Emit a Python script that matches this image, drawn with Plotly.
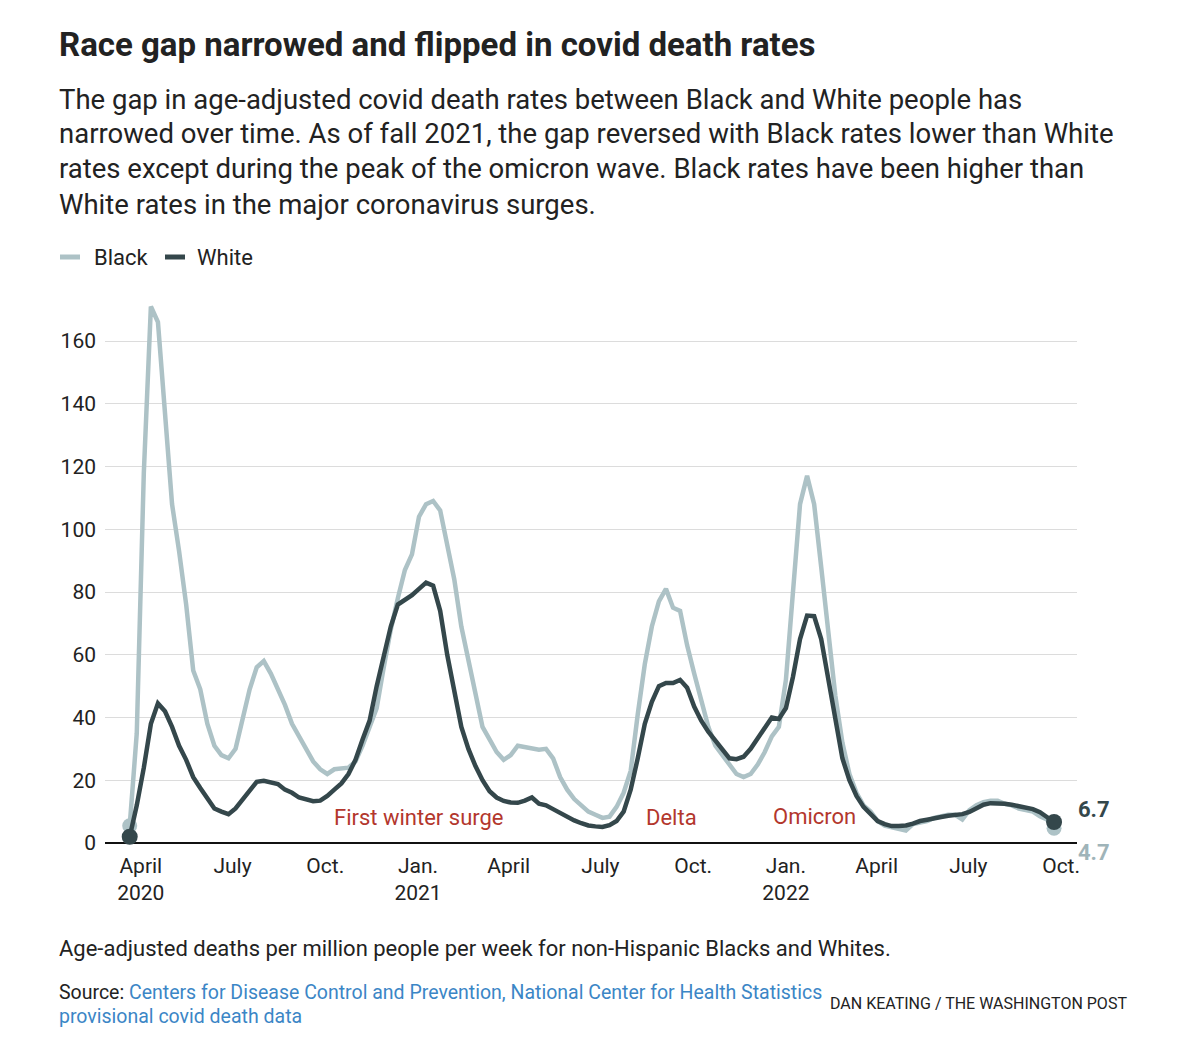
import pandas as pd
import plotly.graph_objects as go

# ---- data (weekly, age-adjusted deaths per million per week) ----
start_week = "2020-03-21"
black = [5.5, 35, 118, 171, 166, 137, 108, 93, 76, 55,
         49, 38, 31, 28, 27, 30, 39, 49, 56, 58,
         54, 49, 44, 38, 34, 30, 26, 23.5, 22, 23.5,
         23.7, 24, 26, 31, 37, 43, 56, 68, 78, 87,
         92, 104, 108, 109, 106, 95, 84, 69, 58, 48,
         37, 33, 29, 26.5, 28, 31, 30.5, 30, 29.7, 30,
         27, 21, 17, 14, 12, 10, 9, 8, 8.4, 11.5,
         16, 23, 41, 57, 69, 77, 81, 75, 74, 63,
         54, 45, 37, 31, 28, 25, 22, 21, 22, 25,
         29, 34, 37, 52, 82, 108, 117, 108, 88, 67,
         47, 32, 22, 16, 12, 10, 7, 5.5, 5, 4.5,
         4, 6, 6.5, 7, 8, 8.5, 9, 9, 7.5, 10.5,
         12, 13, 13.5, 13.5, 12.5, 12, 11, 10.5, 10, 8.5,
         7.5, 4.7]
white = [2, 12, 24, 38, 44.5, 42, 37, 31, 26.5, 21,
         17.5, 14.5, 11, 10, 9.2, 11, 14, 16.5, 19.5, 19.8,
         19.2, 18.8, 17, 16, 14.5, 14, 13.3, 13.5, 15, 17,
         19, 22, 26.5, 33, 39, 50, 59, 69, 76, 77.5,
         79, 81, 83, 82, 74, 60, 48, 37, 30, 24.5,
         20, 16.5, 14.5, 13.4, 12.9, 12.8, 13.5, 14.5, 12.5, 12,
         10.8, 9.5, 8.3, 7.2, 6.3, 5.6, 5.3, 5.1, 5.7, 7,
         10, 17, 27, 38, 45, 50, 51, 51, 52, 49.5,
         43.5, 39, 35.5, 32.5, 29.5, 27, 26.7, 27.5, 30, 33.5,
         37, 40, 39.5, 43, 53, 65, 72.5, 72.3, 65, 52,
         38, 27, 20, 15, 11.5, 9, 7, 6, 5.4, 5.4,
         5.6, 6.2, 7, 7.4, 8, 8.3, 8.7, 9, 9.2, 9.9,
         11, 12.2, 12.7, 12.7, 12.5, 12.2, 11.8, 11.3, 10.8, 9.8,
         8.3, 6.7]
weeks = pd.date_range(start_week, periods=len(black), freq="7D")

tick_dates = ["2020-04-01", "2020-07-01", "2020-10-01", "2021-01-01", "2021-04-01",
              "2021-07-01", "2021-10-01", "2022-01-01", "2022-04-01", "2022-07-01",
              "2022-10-01"]
tick_text = ["April<br>2020", "July", "Oct.", "Jan.<br>2021", "April", "July", "Oct.",
             "Jan.<br>2022", "April", "July", "Oct."]
y_ticks = [0, 20, 40, 60, 80, 100, 120, 140, 160]

wave_labels = ["First winter surge", "Delta", "Omicron"]
wave_dates = ["2021-01-02", "2021-09-09", "2022-01-29"]
wave_y = [8, 8, 8.6]

# ---- style ----
LIGHT = "#adc2c6"
DARK = "#34474b"
RED = "#b3372d"
TXT = "#222222"
BLUE = "#3b86c6"
FONT = "Roboto"

W, H = 1200, 1061
L, R, T, B = 105, 1077, 294, 843   # plot area in pixels


def px(x):
    return (x - L) / (R - L)


def py(y):
    return (B - y) / (B - T)


ref = pd.Timestamp("2021-01-01")
x0 = ref + pd.Timedelta(days=(L - 418) / 1.008)
x1 = ref + pd.Timedelta(days=(R - 418) / 1.008)

fig = go.Figure()
fig.add_trace(go.Scatter(x=weeks, y=black, mode="lines", name="Black",
                         line=dict(color=LIGHT, width=4.5), cliponaxis=False))
fig.add_trace(go.Scatter(x=[weeks[0], weeks[-1]], y=[black[0], black[-1]], mode="markers",
                         marker=dict(color=LIGHT, size=15), cliponaxis=False, showlegend=False))
fig.add_trace(go.Scatter(x=weeks, y=white, mode="lines", name="White",
                         line=dict(color=DARK, width=4.5), cliponaxis=False))
fig.add_trace(go.Scatter(x=[weeks[0], weeks[-1]], y=[white[0], white[-1]], mode="markers",
                         marker=dict(color=DARK, size=16), cliponaxis=False, showlegend=False))

ann = []
# title and subtitle
ann.append(dict(text="<b>Race gap narrowed and flipped in covid death rates</b>",
                x=px(57), y=py(45), font=dict(size=33, color=TXT)))
sub = ["The gap in age-adjusted covid death rates between Black and White people has",
       "narrowed over time. As of fall 2021, the gap reversed with Black rates lower than White",
       "rates except during the peak of the omicron wave. Black rates have been higher than",
       "White rates in the major coronavirus surges."]
for i, s in enumerate(sub):
    ann.append(dict(text=s, x=px(57), y=py(99 + 35 * i), font=dict(size=27.5, color=TXT)))
# legend
ann.append(dict(text="Black", x=px(92), y=py(257), font=dict(size=22, color=TXT)))
ann.append(dict(text="White", x=px(195), y=py(257), font=dict(size=22, color=TXT)))
# footer
ann.append(dict(text="Age-adjusted deaths per million people per week for non-Hispanic Blacks and Whites.",
                x=px(57), y=py(948), font=dict(size=22, color=TXT)))
ann.append(dict(text=f"Source: <span style='color:{BLUE}'>Centers for Disease Control and Prevention, "
                     "National Center for Health Statistics</span>",
                x=px(57), y=py(992), font=dict(size=19.5, color=TXT)))
ann.append(dict(text="provisional covid death data", x=px(57), y=py(1016),
                font=dict(size=19.5, color=BLUE)))
ann.append(dict(text="DAN KEATING / THE WASHINGTON POST", x=px(1129), y=py(1003),
                xanchor="right", font=dict(size=16, color=TXT)))
for a in ann:
    a.setdefault("xanchor", "left")
    a.update(xref="paper", yref="paper", yanchor="middle", showarrow=False)

# wave labels (data positioned)
for t, d, yv in zip(wave_labels, wave_dates, wave_y):
    ann.append(dict(text=t, x=d, y=yv, xref="x", yref="y", showarrow=False,
                    xanchor="center", yanchor="middle", font=dict(size=22, color=RED)))
# end value labels
ann.append(dict(text=f"<b>{white[-1]}</b>", x=px(1076), y=py(809), xref="paper", yref="paper",
                xanchor="left", yanchor="middle", showarrow=False, font=dict(size=22, color=DARK)))
ann.append(dict(text=f"<b>{black[-1]}</b>", x=px(1076), y=py(852), xref="paper", yref="paper",
                xanchor="left", yanchor="middle", showarrow=False, font=dict(size=22, color="#9fb4b9")))

shapes = [
    dict(type="line", xref="paper", yref="paper", x0=px(60), x1=px(80), y0=py(257), y1=py(257),
         line=dict(color=LIGHT, width=5)),
    dict(type="line", xref="paper", yref="paper", x0=px(165), x1=px(185), y0=py(257), y1=py(257),
         line=dict(color=DARK, width=5)),
]

fig.update_layout(
    width=W, height=H,
    margin=dict(l=L, r=W - R, t=T, b=H - B, pad=0),
    paper_bgcolor="white", plot_bgcolor="white",
    font=dict(family=FONT, color=TXT, size=21),
    showlegend=False,
    annotations=ann, shapes=shapes,
)
fig.update_xaxes(range=[x0, x1], tickvals=tick_dates, ticktext=tick_text,
                 showgrid=False, zeroline=False, showline=False, ticks="",
                 ticklabelstandoff=8,
                 tickfont=dict(size=21, color=TXT, family=FONT))
fig.update_yaxes(range=[0, (B - T) / 3.1375], tickvals=y_ticks, showgrid=True,
                 gridcolor="#dcdcdc", gridwidth=1.2, zeroline=True, zerolinecolor="#111111",
                 zerolinewidth=1.6, showline=False, ticks="", ticklabelstandoff=8,
                 tickfont=dict(size=21, color=TXT, family=FONT))

fig.write_html("out.html")
